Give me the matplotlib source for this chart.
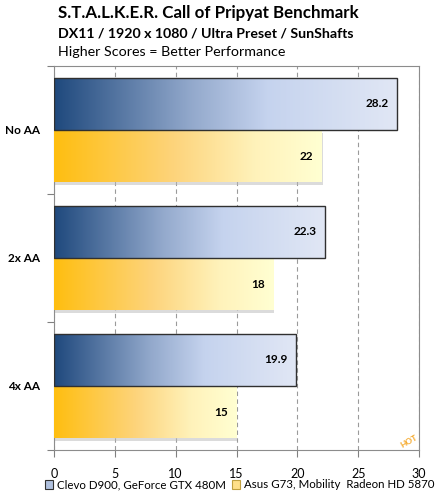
import numpy as np
import matplotlib.pyplot as plt
from matplotlib.colors import LinearSegmentedColormap
from matplotlib.patches import Rectangle, Patch

plt.rcParams['font.family'] = ['Lato', 'DejaVu Sans']

categories = ['No AA', '2x AA', '4x AA']
series = ['Clevo D900, GeForce GTX 480M', 'Asus G73, Mobility  Radeon HD 5870']
clevo = [28.2, 22.3, 19.9]
asus = [22, 18, 15]
xticks = [0, 5, 10, 15, 20, 25, 30]

blue_cm = LinearSegmentedColormap.from_list(
    'blue', [(0, '#1F497D'), (0.4, '#93A9CC'), (0.62, '#C5D3EE'), (1, '#E1E7F5')])
gold_cm = LinearSegmentedColormap.from_list(
    'gold', [(0, '#FFBE10'), (0.45, '#FDD47C'), (0.75, '#FFF2BA'), (1, '#FFFFD2')])

fig = plt.figure(figsize=(4.44, 5.0), dpi=100)
ax = fig.add_axes([54 / 444, 0.1, 365 / 444, 384 / 500])

h = 0.41
grad = np.linspace(0, 1, 256).reshape(1, -1)


def grad_bar(ax, y, v, cmap, edge, shadow):
    if shadow:
        sh = Rectangle((0.08, y - h / 2 + 0.02), v, h, facecolor='#b8b8b8',
                       edgecolor='none', alpha=0.5, zorder=2)
        ax.add_patch(sh)
    rect = Rectangle((0, y - h / 2), v, h, facecolor='none',
                     edgecolor=edge, linewidth=1.0, zorder=4)
    ax.add_patch(rect)
    im = ax.imshow(grad, cmap=cmap, aspect='auto', extent=[0, v, y + h / 2, y - h / 2],
                   zorder=3, interpolation='bilinear')
    im.set_clip_path(rect)


for i, cat in enumerate(categories):
    grad_bar(ax, i - h / 2, clevo[i], blue_cm, '#303030', False)
    grad_bar(ax, i + h / 2, asus[i], gold_cm, 'none', True)
    ax.annotate('%g' % clevo[i], (clevo[i], i - h / 2), xytext=(-6, 0),
                textcoords='offset points', ha='right', va='center',
                fontsize=8.5, fontweight='bold', zorder=5)
    ax.annotate('%g' % asus[i], (asus[i], i + h / 2), xytext=(-6, 0),
                textcoords='offset points', ha='right', va='center',
                fontsize=8.5, fontweight='bold', zorder=5)

ax.set_xlim(0, 30)
ax.set_ylim(2.5, -0.5)
ax.set_xticks(xticks)
ax.set_xticklabels([str(t) for t in xticks], fontsize=9)
ax.tick_params(axis='x', direction='out', length=5, color='#808080', pad=8)
ax.set_yticks([-0.5, 0.5, 1.5, 2.5])
ax.set_yticklabels([])
ax.tick_params(axis='y', direction='out', length=5, color='#808080')
ax.set_yticks([0, 1, 2], minor=True)
ax.set_yticklabels(categories, minor=True, fontsize=8.5, fontweight='bold')
ax.tick_params(axis='y', which='minor', length=0, pad=10)

ax.grid(axis='x', linestyle=(0, (4, 3)), color='#9a9a9a', linewidth=0.8, zorder=0)
ax.set_axisbelow(True)
for s in ['top', 'right', 'left', 'bottom']:
    ax.spines[s].set_color('#8c8c8c')

# HOT logo
ax.text(29.2, 2.43, 'HOT', color='#F5A623', fontsize=6, fontweight='bold',
        rotation=30, ha='center', va='center', zorder=5)

fig.text(58 / 444, 1 - 13 / 500, 'S.T.A.L.K.E.R. Call of Pripyat Benchmark',
         fontsize=12.2, fontweight='bold', va='center', ha='left')
fig.text(58 / 444, 1 - 33 / 500, 'DX11 / 1920 x 1080 / Ultra Preset / SunShafts',
         fontsize=10.2, fontweight='bold', va='center', ha='left')
fig.text(58 / 444, 1 - 52 / 500, 'Higher Scores = Better Performance',
         fontsize=10.3, va='center', ha='left')

handles = [Patch(facecolor='#AFC0DE', edgecolor='#303030', linewidth=0.8),
           Patch(facecolor='#FFE08A', edgecolor='#C0A040', linewidth=0.8)]
fig.legend(handles, series, loc='center', bbox_to_anchor=(0.54, 0.03), ncol=2,
           frameon=False, fontsize=8.3, handlelength=0.7, handleheight=0.7,
           handletextpad=0.3, columnspacing=0.6)

fig.savefig('out.png', dpi=100)
